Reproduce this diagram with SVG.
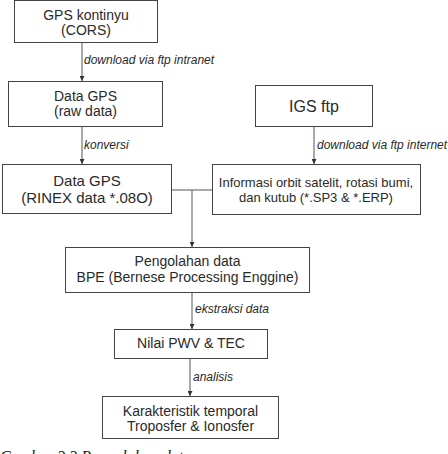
<svg xmlns="http://www.w3.org/2000/svg" width="448" height="454" viewBox="0 0 448 454">
<defs>
<style>
.box{fill:#fff;stroke:#444;stroke-width:1}
.t{font-family:"Liberation Sans",Arial,sans-serif;fill:#2a2a2a;text-anchor:middle}
.lbl{font-family:"Liberation Sans",Arial,sans-serif;font-style:italic;font-size:12px;fill:#2a2a2a}
.ln{stroke:#555;stroke-width:1;fill:none}
.cap{font-family:"Liberation Serif","Times New Roman",serif;font-style:italic;font-size:16px;fill:#222}
</style>
<marker id="ah" viewBox="0 0 8 8" refX="8" refY="4" markerWidth="5" markerHeight="5" orient="auto" markerUnits="userSpaceOnUse">
<path d="M0,0 L8,4 L0,8 z" fill="#333"/>
</marker>
</defs>
<rect width="448" height="454" fill="#fff"/>
<g id="connectors">
<line class="ln" x1="82" y1="42" x2="82" y2="81" marker-end="url(#ah)"/>
<line class="ln" x1="82" y1="126" x2="82" y2="164" marker-end="url(#ah)"/>
<line class="ln" x1="314" y1="126" x2="314" y2="164" marker-end="url(#ah)"/>
<line class="ln" x1="171" y1="190" x2="212" y2="190"/>
<line class="ln" x1="192" y1="190" x2="192" y2="247" marker-end="url(#ah)"/>
<line class="ln" x1="192" y1="292" x2="192" y2="329" marker-end="url(#ah)"/>
<line class="ln" x1="190" y1="358" x2="190" y2="396" marker-end="url(#ah)"/>
<text class="lbl" x="84" y="64">download via ftp intranet</text>
<text class="lbl" x="84" y="149">konversi</text>
<text class="lbl" x="317" y="149">download via ftp internet</text>
<text class="lbl" x="195" y="313">ekstraksi data</text>
<text class="lbl" x="193" y="381">analisis</text>
</g>
<g id="cors">
<rect class="box" x="14.5" y="0.5" width="143" height="42"/>
<text class="t" x="86" y="20" font-size="14">GPS kontinyu</text>
<text class="t" x="86" y="35" font-size="14">(CORS)</text>
</g>
<g id="rawdata">
<rect class="box" x="8.5" y="81.5" width="154" height="45"/>
<text class="t" x="85.5" y="101" font-size="14">Data GPS</text>
<text class="t" x="85.5" y="116" font-size="14">(raw data)</text>
</g>
<g id="igs">
<rect class="box" x="255.5" y="85.5" width="117" height="41"/>
<text class="t" x="314" y="112" font-size="16">IGS ftp</text>
</g>
<g id="rinex">
<rect class="box" x="2.5" y="164.5" width="169" height="49"/>
<text class="t" x="87" y="186" font-size="15">Data GPS</text>
<text class="t" x="87" y="203" font-size="15">(RINEX data *.08O)</text>
</g>
<g id="orbit">
<rect class="box" x="212.5" y="164.5" width="208" height="50"/>
<text class="t" x="316" y="187" font-size="13">Informasi orbit satelit, rotasi bumi,</text>
<text class="t" x="316" y="202" font-size="13">dan kutub (*.SP3 &amp; *.ERP)</text>
</g>
<g id="bpe">
<rect class="box" x="65.5" y="247.5" width="244" height="45"/>
<text class="t" x="187.5" y="266" font-size="14">Pengolahan data</text>
<text class="t" x="187.5" y="282" font-size="14">BPE (Bernese Processing Enggine)</text>
</g>
<g id="pwv">
<rect class="box" x="114.5" y="329.5" width="153" height="29"/>
<text class="t" x="191" y="348" font-size="14">Nilai PWV &amp; TEC</text>
</g>
<g id="karakteristik">
<rect class="box" x="102.5" y="396.5" width="176" height="42"/>
<text class="t" x="190.5" y="416" font-size="14">Karakteristik temporal</text>
<text class="t" x="190.5" y="431" font-size="14">Troposfer &amp; Ionosfer</text>
</g>
<text class="cap" x="0" y="462">Gambar 3.3 Pengolahan data</text>
</svg>
